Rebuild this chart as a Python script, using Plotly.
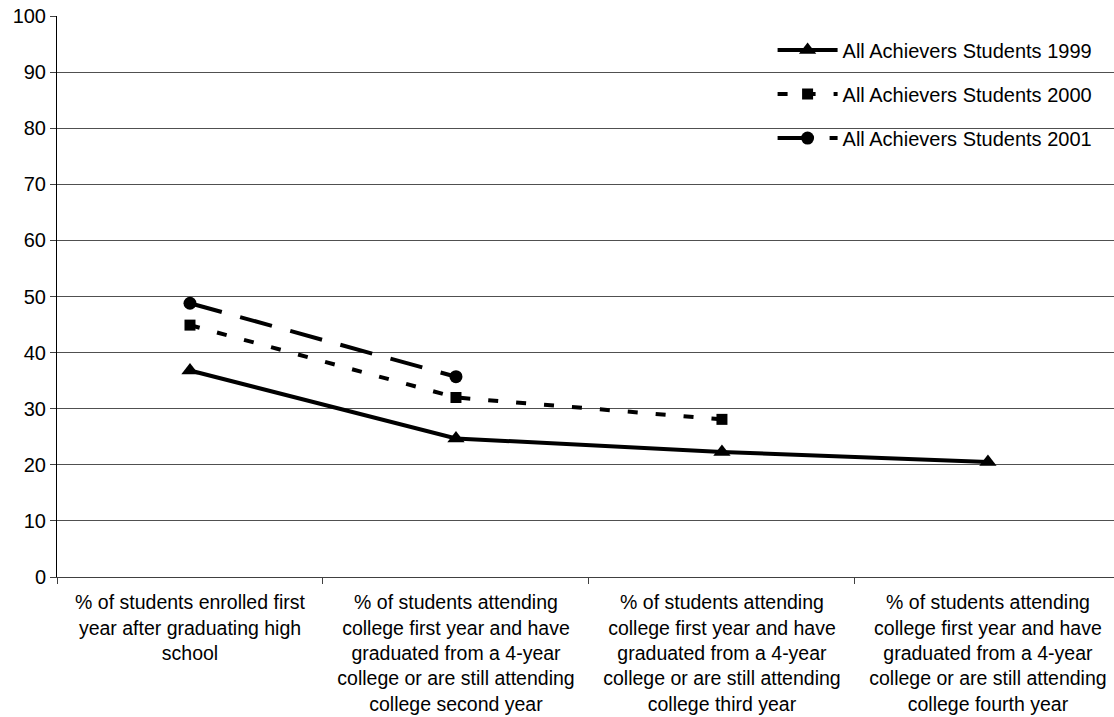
import plotly.graph_objects as go

categories = [
    "% of students enrolled first<br>year after graduating high<br>school",
    "% of students attending<br>college first year and have<br>graduated from a 4-year<br>college or are still attending<br>college second year",
    "% of students attending<br>college first year and have<br>graduated from a 4-year<br>college or are still attending<br>college third year",
    "% of students attending<br>college first year and have<br>graduated from a 4-year<br>college or are still attending<br>college fourth year",
]
students_1999 = [36.8, 24.7, 22.3, 20.5]
students_2000 = [44.9, 32.0, 28.1]
students_2001 = [48.8, 35.7]

y_ticks = list(range(0, 101, 10))

FONT = "Arial, Liberation Sans, sans-serif"

fig = go.Figure()
fig.add_trace(go.Scatter(
    x=categories[:len(students_1999)], y=students_1999,
    name="All Achievers Students 1999", legendgroup="a",
    mode="lines+markers",
    line=dict(color="black", width=4),
    marker=dict(symbol="triangle-up", size=15, color="black"),
))
fig.add_trace(go.Scatter(
    x=categories[:len(students_2000)], y=students_2000,
    name="All Achievers Students 2000", legendgroup="b",
    mode="lines+markers",
    line=dict(color="black", width=4, dash="10px,18px"),
    marker=dict(symbol="square", size=11, color="black"),
))
fig.add_trace(go.Scatter(
    x=categories[:len(students_2001)], y=students_2001,
    name="All Achievers Students 2001", legendgroup="c",
    mode="lines+markers",
    line=dict(color="black", width=4, dash="33px,19px"),
    marker=dict(symbol="circle", size=13, color="black"),
))

# white backing behind the legend, hiding the gridlines it sits over
fig.add_shape(
    type="rect", xref="paper", yref="y",
    x0=0.649, x1=1.0, y0=72, y1=98,
    fillcolor="white", line=dict(width=0), layer="between",
)

fig.update_layout(
    width=1114, height=717,
    margin=dict(l=57, r=0, t=16, b=140, autoexpand=False),
    paper_bgcolor="white", plot_bgcolor="white",
    font=dict(family=FONT, size=20, color="black"),
    showlegend=True,
    legend=dict(
        x=0.677, y=0.974, xanchor="left", yanchor="top",
        bgcolor="rgba(0,0,0,0)", borderwidth=0,
        font=dict(family=FONT, size=20, color="black"),
        traceorder="grouped", tracegroupgap=15,
        itemwidth=60,
    ),
)
fig.update_xaxes(
    type="category", categoryorder="array", categoryarray=categories,
    range=[-0.5, 3.474], automargin=False,
    showline=True, linecolor="#404040", linewidth=1,
    ticks="outside", tickson="boundaries", ticklen=6, tickcolor="#404040",
    showgrid=False, zeroline=False,
    ticklabelstandoff=8,
    tickfont=dict(family=FONT, size=19.5, color="black"),
)
fig.update_yaxes(
    range=[0, 100], tickvals=y_ticks, automargin=False,
    showline=True, linecolor="black", linewidth=1,
    ticks="outside", ticklen=6, tickcolor="#404040",
    showgrid=True, gridcolor="#505050", gridwidth=1,
    zeroline=False,
    tickfont=dict(family=FONT, size=20, color="black"),
)

fig.write_html("out.html")
